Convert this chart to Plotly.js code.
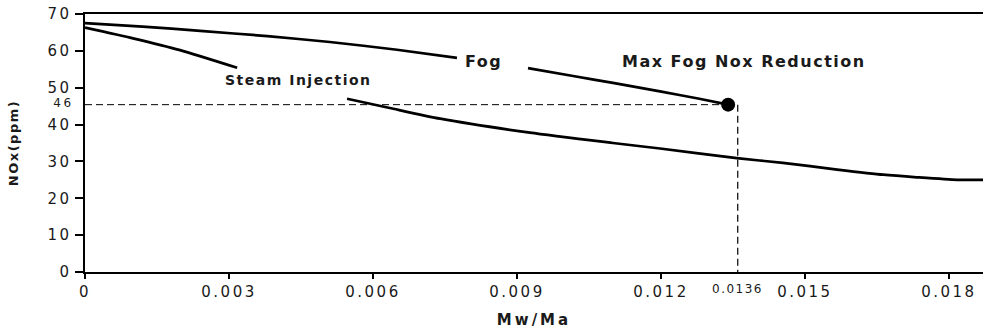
<!DOCTYPE html>
<html>
<head>
<meta charset="utf-8">
<script src="https://cdn.plot.ly/plotly-3.0.1.min.js"></script>
<style>
  html, body { margin: 0; padding: 0; background: #fff; }
  #chart { width: 983px; height: 329px; }
  .xtick text, .ytick text, .y2tick text { letter-spacing: 2.5px; }
  .annotation-text { letter-spacing: 1.5px; }
  .g-xtitle text { letter-spacing: 3px; }
  .g-ytitle text { letter-spacing: 1.5px; }
</style>
</head>
<body>
<div id="chart"></div>
<script>
// ---- data ----
var fogX   = [0, 0.0012, 0.0024, 0.0038, 0.0051, 0.0065, 0.00775, null, 0.00923, 0.0102, 0.011, 0.01198, 0.0128, 0.0134];
var fogY   = [67.5, 66.6, 65.4, 64.0, 62.4, 60.3, 58.1, null, 55.3, 53.1, 51.3, 49.0, 47.0, 45.4];

var steamX = [0, 0.001, 0.00198, 0.00317, null, 0.00546, 0.00635, 0.0074, 0.00927, 0.011, 0.01198, 0.01358, 0.01454, 0.01567, 0.01663, 0.01733, 0.01817, 0.0188];
var steamY = [66.3, 63.4, 60.2, 55.4, null, 47.0, 44.5, 41.6, 37.8, 35.0, 33.5, 30.9, 29.6, 27.8, 26.4, 25.7, 25.0, 25.0];

var maxFogX = [0.0134];
var maxFogY = [45.4];

var refX = 0.0136;       // vertical reference line
var refY = 45.4;         // horizontal reference line
var refXLabel = "0.0136";
var refYLabel = "46";

var xTickVals = [0, 0.003, 0.006, 0.009, 0.012, 0.015, 0.018];
var xTickText = ["0", "0.003", "0.006", "0.009", "0.012", "0.015", "0.018"];
var yTickVals = [0, 10, 20, 30, 40, 50, 60, 70];
var yTickText = ["0", "10", "20", "30", "40", "50", "60", "70"];

var labelSteam = "Steam Injection";
var labelFog = "Fog";
var labelMax = "Max Fog Nox Reduction";
var xTitle = "Mw/Ma";
var yTitle = "NOx(ppm)";
// ----------------------------------------------

var FONT = "DejaVu Sans, Verdana, sans-serif";
var TXT = "#1a1a1a";

var traces = [
  { x: [0, maxFogX[0]], y: [refY, refY], mode: "lines",
    line: { color: "#000", width: 1, dash: "7px,4px" }, hoverinfo: "skip", showlegend: false },
  { x: [refX, refX], y: [refY, 0], mode: "lines",
    line: { color: "#000", width: 1.2, dash: "7px,4px" }, hoverinfo: "skip", showlegend: false },
  { x: steamX, y: steamY, mode: "lines", connectgaps: false,
    line: { color: "#000", width: 2.7, shape: "spline", smoothing: 0.6 }, name: labelSteam, showlegend: false },
  { x: fogX, y: fogY, mode: "lines", connectgaps: false,
    line: { color: "#000", width: 2.7, shape: "spline", smoothing: 0.6 }, name: labelFog, showlegend: false },
  { x: maxFogX, y: maxFogY, mode: "markers",
    marker: { color: "#000", size: 14, symbol: "circle" }, name: labelMax, showlegend: false },
  // invisible trace to carry the secondary y axis that shows the "46" label
  { x: [refX], y: [refY], yaxis: "y2", mode: "markers", marker: { opacity: 0 },
    hoverinfo: "skip", showlegend: false }
];

var layout = {
  width: 983, height: 329,
  margin: { l: 85, r: 0, t: 14, b: 57, pad: 0 },
  paper_bgcolor: "#fff", plot_bgcolor: "#fff",
  showlegend: false,
  font: { family: FONT, color: TXT },
  xaxis: {
    range: [0, 0.01871], showgrid: false, zeroline: false,
    showline: true, linecolor: "#000", linewidth: 2, mirror: true,
    ticks: "outside", ticklen: 5, tickwidth: 2, tickcolor: "#000",
    tickvals: xTickVals, ticktext: xTickText,
    tickfont: { family: FONT, size: 15, color: TXT },
    title: { text: xTitle, standoff: 16, font: { family: FONT, size: 15, weight: "bold", color: TXT } }
  },
  yaxis: {
    range: [0, 70], showgrid: false, zeroline: false,
    showline: true, linecolor: "#000", linewidth: 2.5,
    ticks: "outside", ticklen: 8, tickwidth: 2, tickcolor: "#000",
    tickvals: yTickVals, ticktext: yTickText,
    tickfont: { family: FONT, size: 15, color: TXT },
    title: { text: yTitle, standoff: 26, font: { family: FONT, size: 13, weight: "bold", color: TXT } }
  },
  yaxis2: {
    overlaying: "y", side: "left", range: [0, 70],
    showgrid: false, zeroline: false, showline: false,
    ticks: "outside", ticklen: 8, tickcolor: "rgba(0,0,0,0)",
    tickvals: [refY + 0.5], ticktext: [refYLabel],
    tickfont: { family: FONT, size: 12, color: TXT }
  },
  annotations: [
    { x: 0.00444, y: 52.2, xref: "x", yref: "y", text: labelSteam, showarrow: false,
      font: { family: FONT, size: 14, weight: "bold", color: TXT } },
    { x: 0.00831, y: 57.1, xref: "x", yref: "y", text: labelFog, showarrow: false,
      font: { family: FONT, size: 16, weight: "bold", color: TXT } },
    { x: 0.01373, y: 57.1, xref: "x", yref: "y", text: labelMax, showarrow: false,
      font: { family: FONT, size: 16, weight: "bold", color: TXT } },
    { x: refX, y: -0.067, xref: "x", yref: "paper", yanchor: "middle", text: refXLabel, showarrow: false,
      font: { family: FONT, size: 12, color: TXT } }
  ]
};

Plotly.newPlot("chart", traces, layout, { staticPlot: true, displayModeBar: false });
</script>
</body>
</html>
